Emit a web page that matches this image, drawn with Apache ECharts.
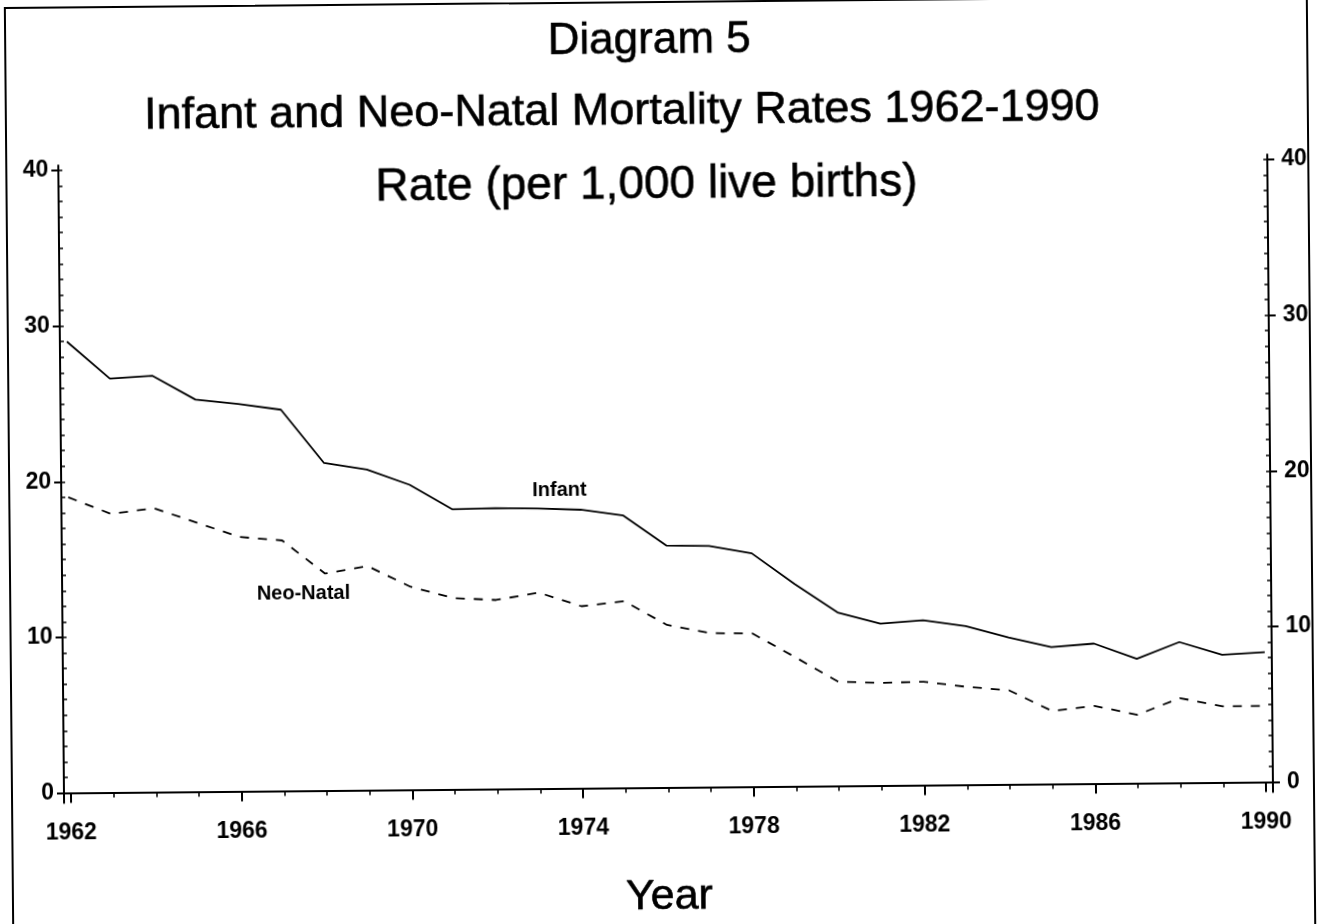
<!DOCTYPE html>
<html>
<head>
<meta charset="utf-8">
<script src="https://cdn.jsdelivr.net/npm/echarts@6/dist/echarts.min.js"></script>
<style>
  html, body { margin: 0; padding: 0; background: #fff; overflow: hidden; }
  #wrap { position: absolute; left: 0; top: 0; width: 1324px; height: 924px;
          transform: rotate(-0.52deg); transform-origin: 662px 462px; }
  #frame { position: absolute; left: 8px; top: 1px; width: 1304px; height: 965px;
           border: 2px solid #000; box-sizing: border-box; }
  #chart { position: absolute; left: 0; top: 0; width: 1324px; height: 924px; }
</style>
</head>
<body>
<div id="wrap">
  <div id="frame"></div>
  <div id="chart"></div>
</div>
<script>
// ---- data ----
const years = [1962,1963,1964,1965,1966,1967,1968,1969,1970,1971,1972,1973,1974,1975,
               1976,1977,1978,1979,1980,1981,1982,1983,1984,1985,1986,1987,1988,1989,1990];
const infant = [29.0,26.6,26.75,25.2,24.9,24.5,21.05,20.6,19.6,18.0,18.05,18.0,17.9,17.5,
                15.55,15.5,15.0,13.0,11.15,10.4,10.6,10.2,9.45,8.8,9.0,8.0,9.05,8.2,8.35];
const neoNatal = [19.0,17.9,18.25,17.3,16.35,16.1,13.95,14.4,13.05,12.3,12.15,12.6,11.7,12.0,
                  10.45,9.9,9.85,8.3,6.7,6.6,6.65,6.3,6.05,4.7,5.0,4.4,5.45,4.9,4.9];
const xTickLabels = [1962,1966,1970,1974,1978,1982,1986,1990];
const yTickLabels = [0,10,20,30,40];
const yMinorTicks = [];
for (let v = 0; v <= 40; v++) yMinorTicks.push(v);

const titles = ['Diagram 5', 'Infant and Neo-Natal Mortality Rates 1962-1990', 'Rate (per 1,000 live births)'];
const xName = 'Year';

const FONT = "'Liberation Sans', Arial, Helvetica, sans-serif";
const BLACK = '#000';

const chart = echarts.init(document.getElementById('chart'), null, { renderer: 'canvas' });

const xRange = { min: 1961.836, max: 1990.164 };
const yRange = { min: -0.642, max: 40.32 };

const tickLabel = { color: BLACK, fontFamily: FONT, fontWeight: 'bold', fontSize: 23 };
const titleStyle = (size) => ({ fontFamily: FONT, fontSize: size, fontWeight: 'normal', color: BLACK,
                                textBorderColor: BLACK, textBorderWidth: 0.6 });

function yAxisMajor(pos, margin) {
  return {
    type: 'value', position: pos, min: yRange.min, max: yRange.max,
    axisLine: { show: true, lineStyle: { color: BLACK, width: 2 } },
    axisTick: { show: true, customValues: yTickLabels, length: 7, inside: false,
                lineStyle: { color: BLACK, width: 2 } },
    axisLabel: Object.assign({ show: true, customValues: yTickLabels, margin: margin,
                formatter: v => String(v) }, tickLabel),
    splitLine: { show: false }
  };
}
function yAxisMinor(pos) {
  return {
    type: 'value', position: pos, min: yRange.min, max: yRange.max,
    axisLine: { show: false },
    axisTick: { show: true, customValues: yMinorTicks, length: 4, inside: true,
                lineStyle: { color: BLACK, width: 1.5 } },
    axisLabel: { show: false },
    splitLine: { show: false }
  };
}

const option = {
  animation: false,
  backgroundColor: 'transparent',
  title: [
    { text: titles[0], left: 648, top: 14, textAlign: 'center', textStyle: titleStyle(44) },
    { text: titles[1], left: 620, top: 84, textAlign: 'center', textStyle: titleStyle(45) },
    { text: titles[2], left: 644, top: 157, textAlign: 'center', textStyle: titleStyle(46) }
  ],
  grid: { left: 61, right: 54, top: 160, bottom: 126.4, containLabel: false,
          outerBoundsMode: 'none' },
  xAxis: [
    {
      type: 'value', position: 'bottom', min: xRange.min, max: xRange.max,
      name: xName, nameLocation: 'middle', nameGap: 78,
      nameTextStyle: { fontFamily: FONT, fontSize: 43, color: BLACK,
                       textBorderColor: BLACK, textBorderWidth: 0.6 },
      axisLine: { show: true, lineStyle: { color: BLACK, width: 2 } },
      axisTick: { show: true, customValues: xTickLabels, length: 10,
                  lineStyle: { color: BLACK, width: 2 } },
      axisLabel: Object.assign({ show: true, customValues: xTickLabels, margin: 19,
                  formatter: v => String(v) }, tickLabel),
      splitLine: { show: false }
    },
    {
      type: 'value', position: 'bottom', min: xRange.min, max: xRange.max,
      axisLine: { show: false },
      axisTick: { show: true, customValues: years, length: 5,
                  lineStyle: { color: BLACK, width: 1.5 } },
      axisLabel: { show: false },
      splitLine: { show: false }
    }
  ],
  yAxis: [
    yAxisMajor('left', 10),
    yAxisMajor('right', 14),
    yAxisMinor('left'),
    yAxisMinor('right')
  ],
  series: [
    {
      name: 'Infant', type: 'line', xAxisIndex: 0, yAxisIndex: 0,
      data: years.map((y, i) => [y, infant[i]]),
      symbol: 'none', smooth: false,
      lineStyle: { color: BLACK, width: 1.8, type: 'solid' },
      markPoint: {
        symbol: 'rect', symbolSize: 1, itemStyle: { color: 'rgba(0,0,0,0)' },
        label: { show: true, position: 'inside', formatter: 'Infant', color: BLACK,
                 fontFamily: FONT, fontWeight: 'bold', fontSize: 20 },
        data: [{ coord: [1973.51, 19.17] }]
      }
    },
    {
      name: 'Neo-Natal', type: 'line', xAxisIndex: 0, yAxisIndex: 0,
      data: years.map((y, i) => [y, neoNatal[i]]),
      symbol: 'none', smooth: false,
      lineStyle: { color: BLACK, width: 1.8, type: [9, 9] },
      markPoint: {
        symbol: 'rect', symbolSize: 1, itemStyle: { color: 'rgba(0,0,0,0)' },
        label: { show: true, position: 'inside', formatter: 'Neo-Natal', color: BLACK,
                 fontFamily: FONT, fontWeight: 'bold', fontSize: 20 },
        data: [{ coord: [1967.49, 12.68] }]
      }
    }
  ]
};
chart.setOption(option);
</script>
</body>
</html>
